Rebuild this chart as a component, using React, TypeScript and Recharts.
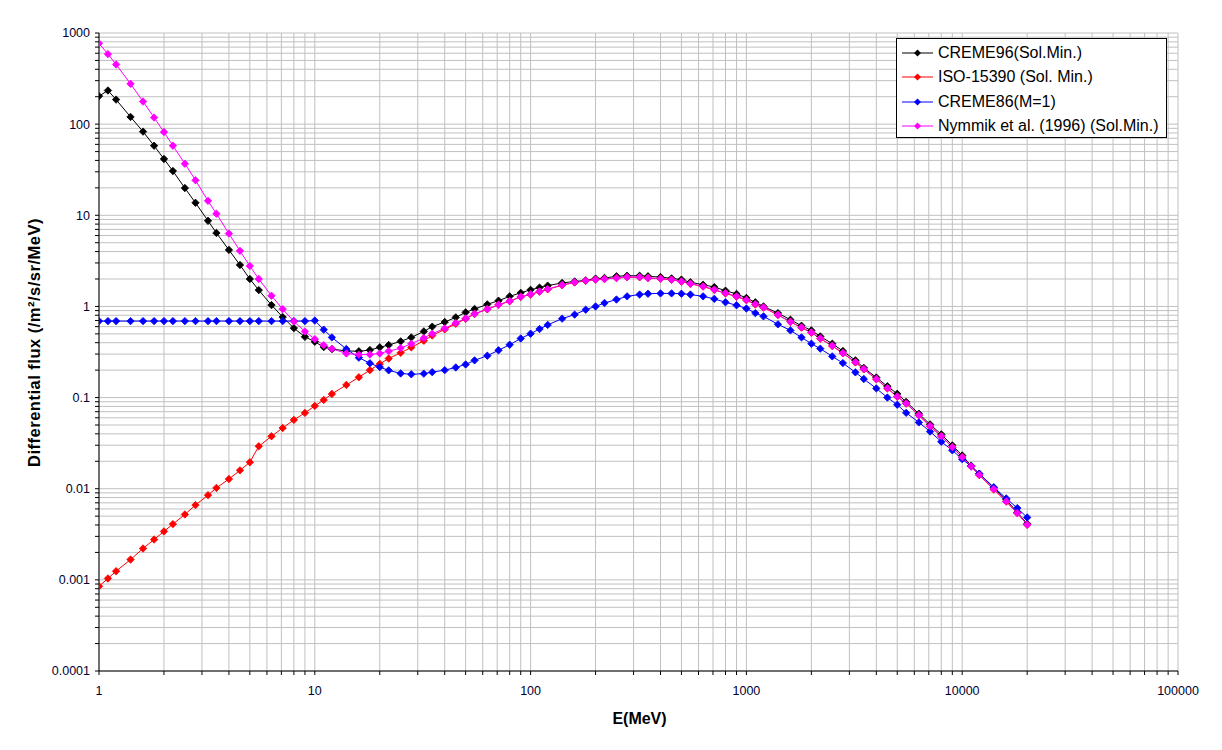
import React from "react";
import { LineChart, Line, XAxis, YAxis, CartesianGrid, Legend } from "recharts";

// energy grid (MeV)
const energies = [
  1, 1.1, 1.2, 1.4, 1.6, 1.8, 2, 2.2, 2.5, 2.8, 3.2, 3.5, 4, 4.5, 5, 5.5, 6.3, 7.1, 8, 9,
  10, 11, 12, 14, 16, 18, 20, 22, 25, 28, 32, 35, 40, 45, 50, 55, 63, 71, 80, 90,
  100, 110, 120, 140, 160, 180, 200, 220, 250, 280, 320, 350, 400, 450, 500, 550, 630, 710, 800, 900,
  1000, 1100, 1200, 1400, 1600, 1800, 2000, 2200, 2500, 2800, 3200, 3500, 4000, 4500, 5000, 5500, 6300, 7100, 8000, 9000,
  10000, 11000, 12000, 14000, 16000, 18000, 20000,
];

const creme96 = [
  203, 234, 186, 120, 82.8, 58, 41.5, 30.6, 19.9, 13.7, 8.7, 6.4, 4.17, 2.85, 2.0, 1.51, 1.035, 0.764, 0.578, 0.464,
  0.41, 0.358, 0.34, 0.325, 0.322, 0.332, 0.356, 0.377, 0.414, 0.457, 0.532, 0.6, 0.674, 0.759, 0.861, 0.936, 1.054, 1.156, 1.29, 1.41,
  1.52, 1.61, 1.69, 1.81, 1.88, 1.93, 2.02, 2.05, 2.14, 2.17, 2.17, 2.14, 2.1, 2.03, 1.97, 1.84, 1.73, 1.63, 1.49, 1.37,
  1.24, 1.11, 1.0, 0.845, 0.714, 0.614, 0.546, 0.469, 0.39, 0.324, 0.256, 0.212, 0.166, 0.133, 0.11, 0.0897, 0.0665, 0.0508, 0.0395, 0.0299,
  0.0232, 0.0179, 0.0146, 0.0102, 0.00757, 0.0055, 0.00413,
];

const iso15390 = [
  0.000851, 0.001035, 0.001245, 0.00167, 0.00221, 0.00277, 0.0034, 0.00409, 0.00522, 0.00662, 0.0085, 0.0102, 0.01276, 0.0159, 0.0195, 0.0292, 0.0376, 0.0464, 0.0569, 0.0679,
  0.081, 0.0942, 0.1096, 0.1377, 0.167, 0.2, 0.234, 0.268, 0.31, 0.355, 0.42, 0.48, 0.56, 0.645, 0.73, 0.825, 0.93, 1.04, 1.14, 1.27,
  1.35, 1.45, 1.54, 1.71, 1.83, 1.91, 1.97, 2.0, 2.05, 2.09, 2.09, 2.05, 2.01, 1.96, 1.87, 1.77, 1.65, 1.52, 1.39, 1.28,
  1.17, 1.05, 0.97, 0.806, 0.675, 0.585, 0.515, 0.443, 0.368, 0.306, 0.243, 0.204, 0.159, 0.126, 0.102, 0.0858, 0.0637, 0.0484, 0.0376, 0.0285,
  0.0221, 0.0175, 0.0141, 0.0098, 0.00722, 0.0054, 0.00402,
];

const creme86 = [
  0.69, 0.69, 0.69, 0.69, 0.69, 0.69, 0.69, 0.69, 0.69, 0.69, 0.69, 0.69, 0.69, 0.69, 0.69, 0.69, 0.69, 0.69, 0.69, 0.69,
  0.7, 0.556, 0.457, 0.341, 0.274, 0.238, 0.216, 0.199, 0.184, 0.18, 0.183, 0.19, 0.2, 0.214, 0.231, 0.256, 0.288, 0.33, 0.38, 0.445,
  0.502, 0.565, 0.627, 0.734, 0.813, 0.921, 1.0, 1.09, 1.19, 1.29, 1.35, 1.38, 1.39, 1.39, 1.38, 1.35, 1.29, 1.21, 1.11, 1.03,
  0.948, 0.845, 0.778, 0.636, 0.546, 0.457, 0.39, 0.344, 0.283, 0.239, 0.189, 0.16, 0.126, 0.1, 0.0834, 0.068, 0.0534, 0.0424, 0.0328, 0.0264,
  0.0211, 0.0176, 0.0146, 0.0104, 0.00783, 0.00613, 0.00484,
];

const nymmik = [
  770, 587, 452, 277, 177, 118, 82, 58, 36.8, 24.2, 14.4, 10.4, 6.3, 4.07, 2.78, 2.0, 1.31, 0.935, 0.684, 0.531,
  0.438, 0.376, 0.343, 0.305, 0.296, 0.297, 0.305, 0.323, 0.349, 0.39, 0.45, 0.502, 0.574, 0.657, 0.739, 0.832, 0.936, 1.045, 1.146, 1.28,
  1.36, 1.46, 1.55, 1.72, 1.84, 1.92, 1.97, 2.0, 2.05, 2.1, 2.1, 2.05, 2.02, 1.97, 1.88, 1.78, 1.66, 1.53, 1.4, 1.29,
  1.18, 1.06, 0.975, 0.811, 0.679, 0.589, 0.519, 0.446, 0.371, 0.308, 0.245, 0.206, 0.16, 0.127, 0.103, 0.0864, 0.0641, 0.0487, 0.0378, 0.0286,
  0.0222, 0.0176, 0.0142, 0.0099, 0.00726, 0.0054, 0.00403,
];

const seriesNames = [
  "CREME96(Sol.Min.)",
  "ISO-15390 (Sol. Min.)",
  "CREME86(M=1)",
  "Nymmik et al. (1996) (Sol.Min.)",
];
const seriesKeys = ["creme96", "iso", "creme86", "nymmik"];
const seriesColors = ["#000000", "#ff0000", "#0000ff", "#ff00ff"];

const xDecades = [1, 10, 100, 1000, 10000, 100000];
const yDecades = [0.0001, 0.001, 0.01, 0.1, 1, 10, 100, 1000];
const minorSteps = [1, 2, 3, 4, 5, 6, 7, 8, 9];

// every decade gets ticks at 1..9 so the grid and minor tick marks show up
function logTicks(decades: number[]) {
  const out: number[] = [];
  decades.forEach((d, i) => {
    if (i === decades.length - 1) {
      out.push(d);
      return;
    }
    minorSteps.forEach((m) => out.push(+(d * m).toPrecision(6)));
  });
  return out;
}

const xTicks = logTicks(xDecades);
const yTicks = logTicks(yDecades);

const data = energies.map((e, i) => ({
  e,
  creme96: creme96[i],
  iso: iso15390[i],
  creme86: creme86[i],
  nymmik: nymmik[i],
}));

const FONT = "'Liberation Sans', Arial, sans-serif";

const makeDot = (color: string) => (props: any) => {
  const { cx, cy, index } = props;
  if (cx == null || cy == null) return <g key={index} />;
  const r = 3.7;
  return (
    <polygon
      key={index}
      points={`${cx},${cy - r} ${cx + r},${cy} ${cx},${cy + r} ${cx - r},${cy}`}
      fill={color}
      stroke={color}
      strokeWidth={0.8}
    />
  );
};

const XTitle = () => (
  <text x={639.5} y={718} textAnchor="middle" dominantBaseline="central"
    fontFamily={FONT} fontSize={16} fontWeight="bold" fill="#000">
    E(MeV)
  </text>
);

const YTitle = () => (
  <text x={34} y={342.5} transform="rotate(-90, 34, 342.5)" textAnchor="middle"
    dominantBaseline="central" fontFamily={FONT} fontSize={16.5} fontWeight="bold"
    letterSpacing={0.5} fill="#000">
    Differential flux (/m²/s/sr/MeV)
  </text>
);

const renderLegend = () => (
  <div
    style={{
      border: "1px solid #000",
      background: "#fff",
      width: 271,
      height: 100,
      boxSizing: "border-box",
      paddingTop: 2,
      fontFamily: FONT,
      fontSize: 16,
      color: "#000",
    }}
  >
    {seriesNames.map((name, i) => (
      <div key={name} style={{ display: "flex", alignItems: "center", height: 24.3 }}>
        <svg width={31} height={10} style={{ marginLeft: 5, marginRight: 5, flexShrink: 0 }}>
          <line x1={0} y1={5} x2={31} y2={5} stroke={seriesColors[i]} strokeWidth={1} />
          <polygon points="15.5,1.5 19,5 15.5,8.5 12,5" fill={seriesColors[i]} />
        </svg>
        <span style={{ whiteSpace: "nowrap" }}>{name}</span>
      </div>
    ))}
  </div>
);

export default function App() {
  return (
    <div style={{ position: "absolute", left: 0, top: 0, width: 1222, height: 750, background: "#fff" }}>
      <LineChart
        width={1222}
        height={750}
        data={data}
        margin={{ top: 33, right: 44, bottom: 0, left: 0 }}
      >
        <CartesianGrid stroke="#c0c0c0" strokeWidth={1} />
        <XAxis
          dataKey="e"
          type="number"
          scale="log"
          domain={[1, 100000]}
          allowDataOverflow
          ticks={xTicks}
          interval={0}
          height={79}
          stroke="#000"
          tickSize={4}
          tickMargin={11}
          tick={{ fontSize: 12.5, fill: "#000033", fontFamily: FONT }}
          tickFormatter={(v: number) => (xDecades.includes(v) ? String(v) : "")}
          label={XTitle}
        />
        <YAxis
          type="number"
          scale="log"
          domain={[0.0001, 1000]}
          allowDataOverflow
          ticks={yTicks}
          interval={0}
          width={99}
          stroke="#000"
          tickSize={4}
          tickMargin={5}
          tick={{ fontSize: 12.5, fill: "#000033", fontFamily: FONT }}
          tickFormatter={(v: number) => (yDecades.includes(v) ? String(v) : "")}
          label={YTitle}
        />
        <Legend
          layout="horizontal"
          verticalAlign="middle"
          align="center"
          content={renderLegend}
          wrapperStyle={{ position: "absolute", left: 896, top: 38, width: 271, height: 100 }}
        />
        {seriesKeys.map((k, i) => (
          <Line
            key={k}
            dataKey={k}
            name={seriesNames[i]}
            stroke={seriesColors[i]}
            strokeWidth={1}
            dot={makeDot(seriesColors[i])}
            activeDot={false}
            isAnimationActive={false}
          />
        ))}
      </LineChart>
    </div>
  );
}
